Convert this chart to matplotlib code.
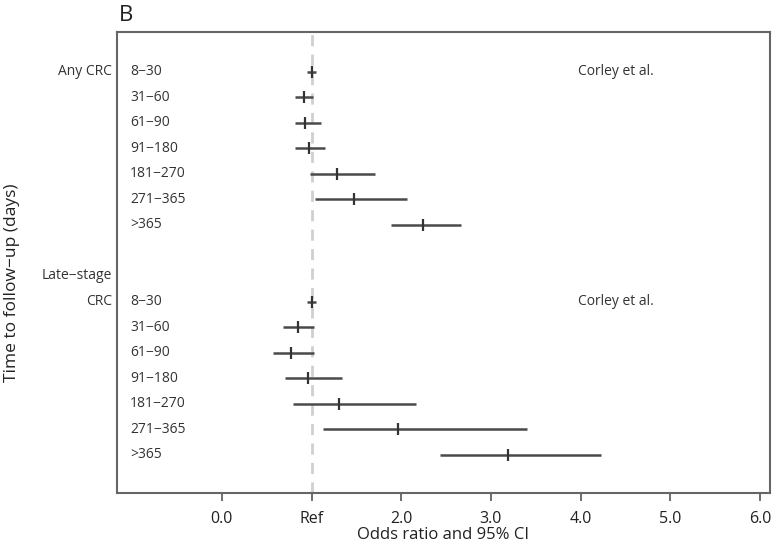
import matplotlib
matplotlib.use("Agg")
import matplotlib.pyplot as plt
import matplotlib.transforms as mtransforms

plt.rcParams["font.family"] = ["Open Sans", "DejaVu Sans"]

# follow-up intervals (same for both outcomes)
intervals = ["8\u221230", "31\u221260", "61\u221290", "91\u2212180",
             "181\u2212270", "271\u2212365", ">365"]

# Any CRC: odds ratio, lower and upper 95% CI
any_or = [1.00, 0.91, 0.93, 0.97, 1.28, 1.47, 2.24]
any_lo = [0.95, 0.82, 0.81, 0.81, 0.98, 1.04, 1.88]
any_hi = [1.05, 1.01, 1.10, 1.15, 1.71, 2.06, 2.67]

# Late-stage CRC
late_or = [1.00, 0.85, 0.77, 0.96, 1.30, 1.96, 3.19]
late_lo = [0.95, 0.68, 0.57, 0.70, 0.79, 1.13, 2.43]
late_hi = [1.05, 1.03, 1.03, 1.34, 2.16, 3.40, 4.23]

xticks = [0, 1, 2, 3, 4, 5, 6]
xticklabels = ["0.0", "Ref", "2.0", "3.0", "4.0", "5.0", "6.0"]

fig = plt.figure(figsize=(7.81, 5.44), dpi=100)
ax = fig.add_axes([0.1498, 0.0938, 0.836, 0.847])

line_col = "#4a4a4a"
ax.axvline(1, color="#cfcfcf", lw=2, ls=(0, (4, 3)), zorder=0)

blend = mtransforms.blended_transform_factory(ax.transAxes, ax.transData)

groups = [(0, any_or, any_lo, any_hi), (9, late_or, late_lo, late_hi)]
for start, orv, lo, hi in groups:
    for i, lab in enumerate(intervals):
        y = -(start + i)
        ax.hlines(y, lo[i], hi[i], color=line_col, lw=1.8)
        ax.plot(orv[i], y, marker="|", ms=9, mew=1.6, color="#333333")
        ax.text(0.02, y, lab, transform=blend,
                ha="left", va="center", fontsize=10, color="#333333")
    ax.text(3.97, -start, "Corley et al.", ha="left", va="center",
            fontsize=10, color="#333333")

# group labels outside the left edge
ax.text(-0.008, 0, "Any CRC", transform=blend, ha="right", va="center",
        fontsize=10, color="#333333")
ax.text(-0.008, -8, "Late\u2212stage", transform=blend, ha="right", va="center",
        fontsize=10, color="#333333")
ax.text(-0.008, -9, "CRC", transform=blend, ha="right", va="center",
        fontsize=10, color="#333333")

ax.set_xlim(-1.17, 6.11)
ax.set_ylim(-16.5, 1.55)
ax.set_xticks(xticks)
ax.set_xticklabels(xticklabels, fontsize=11.5, color="#222222")
ax.set_yticks([])
ax.tick_params(axis="x", length=6, width=1.2, color="#555555", pad=7)
for s in ax.spines.values():
    s.set_color("#666666")
    s.set_linewidth(1.5)

ax.set_xlabel("Odds ratio and 95% CI", fontsize=12, color="#222222", labelpad=0)
fig.text(0.016, 0.48, "Time to follow\u2212up (days)", rotation=90,
         ha="center", va="center", fontsize=12.5, color="#222222")
fig.text(0.152, 0.972, "B", ha="left", va="center", fontsize=16, color="#222222")

fig.savefig("out.png", dpi=100)
